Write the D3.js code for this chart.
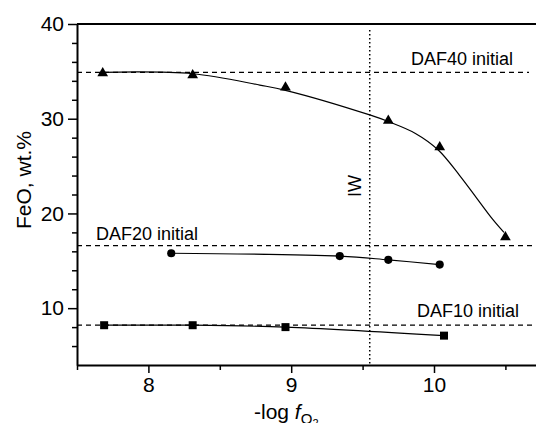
<!DOCTYPE html>
<html>
<head>
<meta charset="utf-8">
<script src="https://cdn.jsdelivr.net/npm/d3@7"></script>
<style>
  html, body { margin: 0; padding: 0; background: #fff; }
  svg { display: block; font-family: "Liberation Sans", Arial, sans-serif; }
</style>
</head>
<body>
<svg id="chart" width="536" height="423"></svg>
<script>
// ---- data ----
const xTicks = [8, 9, 10];
const xMinorTicks = [7.5, 8.5, 9.5, 10.5];
const yTicks = [10, 20, 30, 40];
const yMinorTicks = [6, 8, 12, 14, 16, 18, 22, 24, 26, 28, 32, 34, 36, 38];

const daf40X = [7.68, 8.31, 8.96, 9.68, 10.04, 10.50];
const daf40Y = [34.8, 34.6, 33.3, 29.8, 27.0, 17.5];
const daf40FitX = [7.68, 8.31, 8.78, 8.96, 9.55, 9.68, 9.87, 10.03, 10.18, 10.30, 10.41, 10.49];
const daf40FitY = [34.9, 34.75, 33.55, 33.0, 30.4, 29.7, 28.45, 26.7, 24.0, 21.6, 19.4, 18.0];

const daf20X = [8.16, 9.34, 9.68, 10.04];
const daf20Y = [15.8, 15.5, 15.1, 14.6];

const daf10X = [7.69, 8.31, 8.96, 10.07];
const daf10Y = [8.2, 8.2, 8.0, 7.1];

const initialLabels = ["DAF40 initial", "DAF20 initial", "DAF10 initial"];
const initialValues = [34.9, 16.6, 8.2];
const iwValue = 9.55;
const iwLabel = "IW";

// ---- layout ----
(function () {
const svg = d3.select("#chart");
const mLeft = 77, mTop = 24, mBottom = 365;
const x = d3.scaleLinear().domain([7.5, 10.75]).range([mLeft, mLeft + 3.25 * 142.8]);
const y = d3.scaleLinear().domain([4, 40]).range([mBottom, mTop]);

// top frame line
svg.append("line")
  .attr("x1", mLeft).attr("x2", 536).attr("y1", y(40)).attr("y2", y(40))
  .attr("stroke", "#000").attr("stroke-width", 2);

// x axis
const gx = svg.append("g").attr("transform", `translate(0,${mBottom})`);
gx.call(d3.axisBottom(x).tickValues(xTicks).tickSize(8).tickSizeOuter(0).tickPadding(4).tickFormat(d3.format("d")));
gx.append("g").call(d3.axisBottom(x).tickValues(xMinorTicks).tickSize(5).tickSizeOuter(0).tickFormat(""))
  .select(".domain").remove();
gx.selectAll(".domain").attr("stroke-width", 2);
gx.selectAll(".tick line").attr("stroke-width", 1.5);
gx.selectAll("text").attr("font-size", 21).attr("font-family", "Liberation Sans, Arial, sans-serif").attr("fill", "#000");

// y axis
const gy = svg.append("g").attr("transform", `translate(${mLeft},0)`);
gy.call(d3.axisLeft(y).tickValues(yTicks).tickSize(9).tickSizeOuter(0).tickPadding(4).tickFormat(d3.format("d")));
gy.append("g").call(d3.axisLeft(y).tickValues(yMinorTicks).tickSize(5).tickSizeOuter(0).tickFormat(""))
  .select(".domain").remove();
gy.selectAll(".domain").attr("stroke-width", 2);
gy.selectAll(".tick line").attr("stroke-width", 1.5);
gy.selectAll("text").attr("font-size", 21).attr("font-family", "Liberation Sans, Arial, sans-serif").attr("fill", "#000");

// axis titles
svg.append("text")
  .attr("transform", `translate(31,180) rotate(-90)`)
  .attr("text-anchor", "middle")
  .attr("font-size", 21)
  .text("FeO, wt.%");

const xt = svg.append("text").attr("x", 254).attr("y", 419).attr("font-size", 21);
xt.append("tspan").text("-log ");
xt.append("tspan").attr("font-style", "italic").text("f");
xt.append("tspan").attr("font-size", 15).attr("dy", 5).text("O");
xt.append("tspan").attr("font-size", 11).attr("dy", 3).text("2");

// initial (dashed) lines
const dashEnds = [529, 536, 536];
initialValues.forEach((v, i) => {
  svg.append("line")
    .attr("x1", mLeft).attr("x2", dashEnds[i])
    .attr("y1", y(v)).attr("y2", y(v))
    .attr("stroke", "#000").attr("stroke-width", 1.3)
    .attr("stroke-dasharray", "5,4");
});
const labelPos = [[411, 65], [96, 240], [417, 317]];
initialLabels.forEach((t, i) => {
  svg.append("text").attr("x", labelPos[i][0]).attr("y", labelPos[i][1])
    .attr("font-size", 18).text(t);
});

// IW dotted line
svg.append("line")
  .attr("x1", x(iwValue)).attr("x2", x(iwValue))
  .attr("y1", 30).attr("y2", mBottom)
  .attr("stroke", "#000").attr("stroke-width", 1.5)
  .attr("stroke-dasharray", "1.5,2.5");
svg.append("text")
  .attr("transform", `translate(${x(iwValue) - 9},186) rotate(-90)`)
  .attr("text-anchor", "middle")
  .attr("font-size", 18)
  .text(iwLabel);

// curves
const line = d3.line().x(d => x(d[0])).y(d => y(d[1])).curve(d3.curveCatmullRom.alpha(0.5));
function drawLine(xs, ys) {
  svg.append("path").datum(xs.map((v, i) => [v, ys[i]]))
    .attr("d", line).attr("fill", "none").attr("stroke", "#000").attr("stroke-width", 1.2);
}
drawLine(daf40FitX, daf40FitY);
drawLine(daf20X, daf20Y);
drawLine(daf10X, daf10Y);

// markers
function drawPoints(xs, ys, type, size) {
  svg.append("g").selectAll("path").data(xs.map((v, i) => [v, ys[i]])).join("path")
    .attr("transform", d => `translate(${x(d[0])},${y(d[1])})`)
    .attr("d", d3.symbol().type(type).size(size))
    .attr("fill", "#000");
}
drawPoints(daf40X, daf40Y, d3.symbolTriangle, 50);
drawPoints(daf20X, daf20Y, d3.symbolCircle, 52);
drawPoints(daf10X, daf10Y, d3.symbolSquare, 64);
})();
</script>
</body>
</html>
